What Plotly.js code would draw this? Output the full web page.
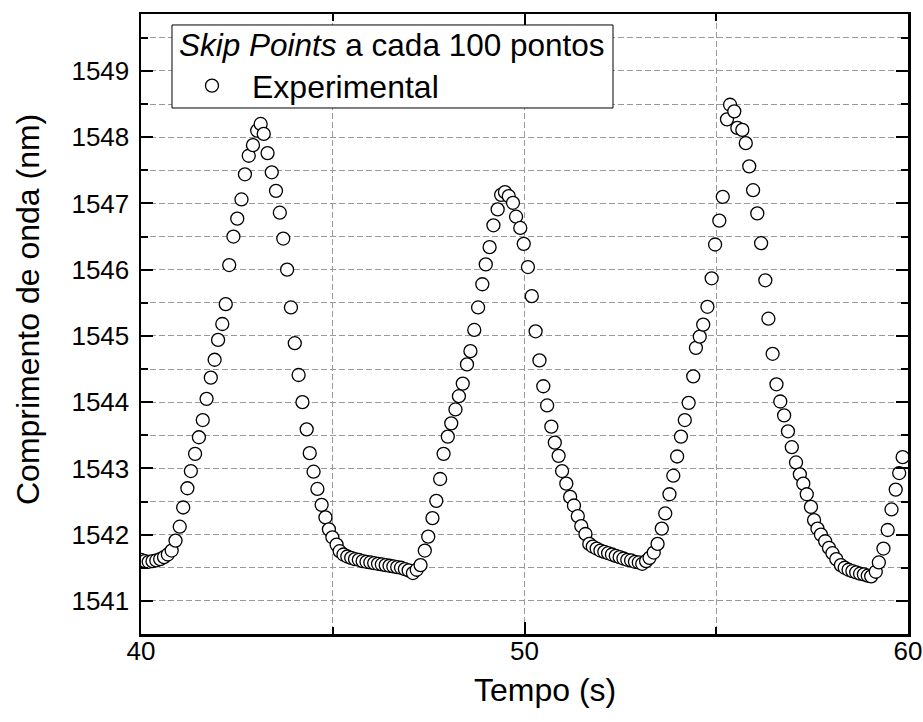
<!DOCTYPE html>
<html>
<head>
<meta charset="utf-8">
<script src="https://cdn.plot.ly/plotly-3.0.1.min.js"></script>
<style>html,body{margin:0;padding:0;background:#fff;}#chart{width:923px;height:722px;}</style>
</head>
<body>
<div id="chart"></div>
<script>
// Time (s)
const tempo = [
40.00,40.10,40.20,40.30,40.40,40.50,40.60,40.70,40.80,40.90,
41.01,41.10,41.21,41.30,41.41,41.51,41.61,41.71,41.82,41.92,
42.01,42.12,42.21,42.30,42.41,42.51,42.62,42.71,42.81,42.92,
43.03,43.12,43.20,43.30,43.41,43.52,43.62,43.71,43.81,43.91,
44.01,44.11,44.21,44.32,44.40,44.50,44.60,44.71,44.81,44.90,
44.99,45.10,45.18,45.28,45.38,45.48,45.58,45.68,45.78,45.88,
45.98,46.08,46.18,46.28,46.38,46.48,46.58,46.68,46.78,46.88,
46.98,47.09,47.19,47.29,47.40,47.49,47.60,47.70,47.80,47.89,
48.00,48.09,48.20,48.29,48.39,48.50,48.59,48.69,48.79,48.90,
48.99,49.09,49.19,49.30,49.39,49.49,49.59,49.70,49.78,49.89,
49.98,50.09,50.19,50.29,50.39,50.49,50.59,50.70,50.79,50.89,
50.98,51.09,51.19,51.29,51.39,51.48,51.59,51.69,51.78,51.88,
51.98,52.08,52.18,52.28,52.38,52.48,52.58,52.68,52.78,52.88,
52.98,53.07,53.17,53.26,53.37,53.47,53.58,53.67,53.78,53.88,
53.98,54.08,54.18,54.28,54.40,54.47,54.57,54.66,54.77,54.88,
54.97,55.08,55.17,55.28,55.36,55.47,55.55,55.68,55.77,55.86,
55.96,56.07,56.17,56.28,56.36,56.47,56.57,56.67,56.77,56.87,
56.97,57.08,57.18,57.27,57.36,57.47,57.55,57.64,57.73,57.84,
57.94,58.03,58.13,58.25,58.35,58.45,58.55,58.65,58.75,58.85,
58.95,59.04,59.16,59.24,59.36,59.47,59.57,59.68,59.77,59.86
];
// Wavelength (nm)
const comprimento = [
1541.62,1541.60,1541.59,1541.60,1541.61,1541.63,1541.66,1541.70,1541.76,1541.91,
1542.12,1542.41,1542.70,1542.96,1543.22,1543.47,1543.73,1544.05,1544.37,1544.64,
1544.94,1545.18,1545.48,1546.07,1546.50,1546.77,1547.06,1547.44,1547.72,1547.88,
1548.10,1548.20,1548.05,1547.76,1547.47,1547.19,1546.86,1546.47,1546.00,1545.43,
1544.89,1544.41,1544.00,1543.59,1543.23,1542.95,1542.69,1542.45,1542.26,1542.08,
1541.96,1541.85,1541.75,1541.70,1541.67,1541.65,1541.63,1541.62,1541.60,1541.59,
1541.58,1541.57,1541.56,1541.55,1541.54,1541.53,1541.52,1541.51,1541.50,1541.48,
1541.46,1541.42,1541.47,1541.54,1541.76,1541.97,1542.25,1542.51,1542.84,1543.22,
1543.48,1543.68,1543.89,1544.09,1544.28,1544.57,1544.77,1545.09,1545.43,1545.78,
1546.08,1546.34,1546.67,1546.91,1547.13,1547.17,1547.11,1547.01,1546.80,1546.63,
1546.39,1546.04,1545.60,1545.07,1544.63,1544.24,1543.95,1543.63,1543.39,1543.19,
1542.96,1542.77,1542.57,1542.44,1542.28,1542.13,1542.01,1541.86,1541.82,1541.79,
1541.76,1541.74,1541.72,1541.70,1541.68,1541.66,1541.64,1541.62,1541.61,1541.59,
1541.58,1541.56,1541.60,1541.65,1541.73,1541.86,1542.09,1542.32,1542.61,1542.89,
1543.18,1543.48,1543.73,1543.99,1544.39,1544.82,1544.99,1545.17,1545.44,1545.87,
1546.38,1546.74,1547.10,1548.27,1548.49,1548.39,1548.14,1548.11,1547.91,1547.56,
1547.20,1546.85,1546.40,1545.84,1545.26,1544.73,1544.27,1544.01,1543.80,1543.56,
1543.32,1543.09,1542.91,1542.77,1542.61,1542.42,1542.22,1542.09,1542.00,1541.90,
1541.80,1541.72,1541.63,1541.54,1541.50,1541.47,1541.45,1541.43,1541.41,1541.40,
1541.38,1541.37,1541.44,1541.58,1541.79,1542.07,1542.38,1542.68,1542.93,1543.17
];
const xTickVals = [40, 50, 60];
const xTickText = ['40', '50', '60'];
const yTickVals = [1541, 1542, 1543, 1544, 1545, 1546, 1547, 1548, 1549];
const yTickText = ['1541', '1542', '1543', '1544', '1545', '1546', '1547', '1548', '1549'];
const seriesName = 'Experimental';
const legendTitle = '<i>Skip Points</i> a cada 100 pontos';
const xTitle = 'Tempo (s)';
const yTitle = 'Comprimento de onda (nm)';

const FONT = 'Arial, "Liberation Sans", sans-serif';
const gridColor = '#9a9a9a';
const gridDash = '6px,3px';

const trace = {
  x: tempo,
  y: comprimento,
  type: 'scatter',
  mode: 'markers',
  name: seriesName,
  marker: {
    symbol: 'circle',
    size: 13,
    color: '#ffffff',
    line: {color: '#000000', width: 1.3}
  },
  cliponaxis: true
};

function axisCommon() {
  return {
    tickmode: 'array',
    ticks: 'inside',
    ticklen: 12,
    tickwidth: 2,
    tickcolor: '#000000',
    showline: true,
    linewidth: 2.5,
    linecolor: '#000000',
    mirror: 'allticks',
    showgrid: true,
    gridcolor: gridColor,
    gridwidth: 1,
    griddash: gridDash,
    zeroline: false,
    tickfont: {family: FONT, size: 26, color: '#000000'}
  };
}

const xaxis = Object.assign(axisCommon(), {
  range: [40, 60],
  tickvals: xTickVals,
  ticktext: xTickText,
  ticklabelstandoff: -8,
  minor: {
    dtick: 5, tick0: 40, ticks: 'inside', ticklen: 7, tickwidth: 2, tickcolor: '#000000',
    showgrid: true, gridcolor: gridColor, gridwidth: 1, griddash: gridDash
  }
});

const yaxis = Object.assign(axisCommon(), {
  range: [1540.5, 1549.86],
  tickvals: yTickVals,
  ticktext: yTickText,
  ticklabelstandoff: 4,
  minor: {
    dtick: 0.5, tick0: 1540.5, ticks: 'inside', ticklen: 7, tickwidth: 2, tickcolor: '#000000',
    showgrid: true, gridcolor: gridColor, gridwidth: 1, griddash: gridDash
  }
});

const layout = {
  width: 923,
  height: 722,
  margin: {l: 141, r: 15, t: 14, b: 88},
  paper_bgcolor: '#ffffff',
  plot_bgcolor: '#ffffff',
  font: {family: FONT, color: '#000000', size: 26},
  showlegend: true,
  legend: {
    x: 0.0404, y: 0.9285, xanchor: 'left', yanchor: 'top',
    bgcolor: 'rgba(0,0,0,0)',
    borderwidth: 0,
    font: {family: FONT, size: 32, color: '#000000'},
    itemwidth: 70,
    tracegroupgap: 0
  },
  xaxis: xaxis,
  yaxis: yaxis,
  shapes: [{
    type: 'rect', xref: 'paper', yref: 'paper', layer: 'above',
    x0: 0.0404, x1: 0.6154, y0: 0.8484, y1: 0.9823,
    fillcolor: '#ffffff', line: {color: '#000000', width: 1}
  }],
  annotations: [
    {
      text: legendTitle, xref: 'paper', yref: 'paper',
      x: 0.0469, y: 0.950, xanchor: 'left', yanchor: 'middle', showarrow: false,
      font: {family: FONT, size: 31.5, color: '#000000'}
    },
    {
      text: xTitle, xref: 'paper', yref: 'paper',
      x: 0.5267, y: -0.090, xanchor: 'center', yanchor: 'middle', showarrow: false,
      font: {family: FONT, size: 32, color: '#000000'}
    },
    {
      text: yTitle, xref: 'paper', yref: 'paper', textangle: -90,
      x: -0.1473, y: 0.5226, xanchor: 'center', yanchor: 'middle', showarrow: false,
      font: {family: FONT, size: 32, color: '#000000'}
    }
  ]
};

Plotly.newPlot('chart', [trace], layout, {displayModeBar: false, staticPlot: true});
</script>
</body>
</html>
